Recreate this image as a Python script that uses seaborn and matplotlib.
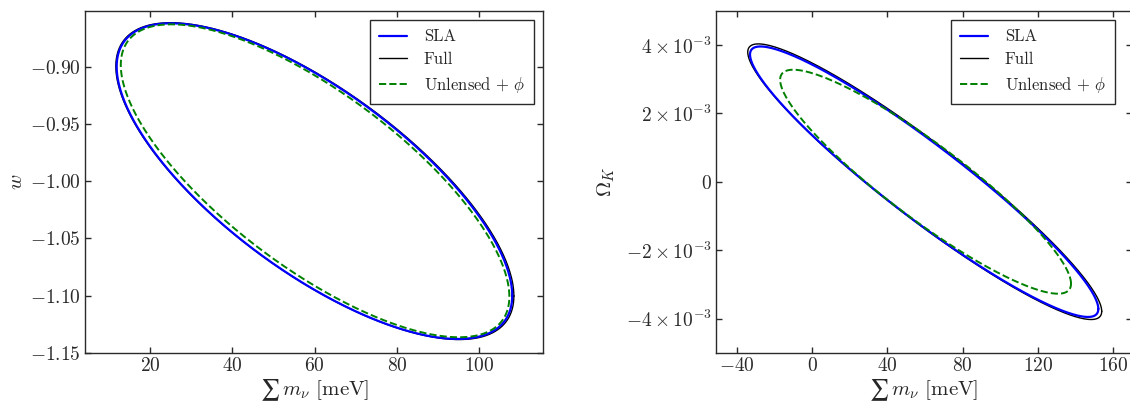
import numpy as np
import pandas as pd
import matplotlib
matplotlib.use("Agg")
import matplotlib.pyplot as plt
import seaborn as sns

# Forecast 1-sigma contours: centre, half-extent along each axis, correlation
series = ["SLA", "Full", r"Unlensed $+\ \phi$"]
colors = ["#0000ff", "#000000", "#008000"]
styles = ["-", "-", "--"]
widths = [1.6, 1.0, 1.4]
zorders = [3, 2, 4]

# Panel 1: sum m_nu [meV] vs w
w_cx = [59.95, 60.05, 60.10]
w_cy = [-1.000, -1.000, -0.9997]
w_hx = [48.05, 48.35, 47.20]
w_hy = [0.1380, 0.1385, 0.1368]
w_rho = [-0.725, -0.725, -0.740]

# Panel 2: sum m_nu [meV] vs Omega_K
k_cx = [59.5, 59.8, 60.25]
k_cy = [0.0, 0.0, 0.0]
k_hx = [92.5, 94.0, 77.25]
k_hy = [3.955e-3, 4.03e-3, 3.275e-3]
k_rho = [-0.940, -0.940, -0.910]

w_yticks = [-0.90, -0.95, -1.00, -1.05, -1.10, -1.15]
w_xticks = [20, 40, 60, 80, 100]
k_yticks = [4e-3, 2e-3, 0.0, -2e-3, -4e-3]
k_ytick_labels = [r"$4\times10^{-3}$", r"$2\times10^{-3}$", r"$0$",
                  r"$-2\times10^{-3}$", r"$-4\times10^{-3}$"]
k_xticks = [-40, 0, 40, 80, 120, 160]


def contour_frame(cx, cy, hx, hy, rho, n=600):
    t = np.linspace(0.0, 2.0 * np.pi, n)
    frames = []
    for i, name in enumerate(series):
        x = cx[i] + hx[i] * np.cos(t)
        y = cy[i] + hy[i] * (rho[i] * np.cos(t) + np.sqrt(1 - rho[i] ** 2) * np.sin(t))
        frames.append(pd.DataFrame({"x": x, "y": y, "series": name}))
    return frames


sns.set_style("ticks")
plt.rcParams.update({
    "font.family": "serif",
    "font.serif": ["cmr10", "DejaVu Serif"],
    "mathtext.fontset": "cm",
    "axes.formatter.use_mathtext": True,
    "axes.unicode_minus": True,
    "axes.edgecolor": "#2a2a2a",
    "axes.linewidth": 1.0,
    "xtick.direction": "in",
    "ytick.direction": "in",
    "xtick.top": True,
    "ytick.right": True,
    "xtick.major.size": 4,
    "ytick.major.size": 4,
    "xtick.major.width": 1.0,
    "ytick.major.width": 1.0,
    "xtick.color": "#2a2a2a",
    "ytick.color": "#2a2a2a",
})

fig = plt.figure(figsize=(11.3, 4.03), dpi=100)
ax1 = fig.add_axes([0.0752, 0.1248, 0.4056, 0.8486])
ax2 = fig.add_axes([0.6334, 0.1248, 0.3684, 0.8486])


def draw(ax, frames):
    handles = []
    for i, df in enumerate(frames):
        sns.lineplot(data=df, x="x", y="y", sort=False, estimator=None, ax=ax,
                     color=colors[i], linestyle=styles[i], linewidth=widths[i],
                     zorder=zorders[i], legend=False)
        handles.append(ax.lines[-1])
    return handles


h1 = draw(ax1, contour_frame(w_cx, w_cy, w_hx, w_hy, w_rho))
h2 = draw(ax2, contour_frame(k_cx, k_cy, k_hx, k_hy, k_rho))

# text-size summation sign
xlabel = "$\u2211\\, m_\\nu$ [meV]"

# Left panel axes
ax1.set_xlim(4.2, 115.55)
ax1.set_ylim(-1.15, -0.851)
ax1.set_xticks(w_xticks)
ax1.set_xticklabels([rf"${v:d}$" for v in w_xticks])
ax1.set_yticks(w_yticks)
ax1.set_yticklabels([rf"${v:.2f}$" for v in w_yticks])
ax1.set_xlabel(xlabel, fontsize=15, labelpad=1)
ax1.set_ylabel(r"$w$", fontsize=15, labelpad=3)

# Right panel axes
ax2.set_xlim(-51.2, 169.9)
ax2.set_ylim(-5e-3, 5e-3)
ax2.set_xticks(k_xticks)
ax2.set_xticklabels([rf"${v:d}$" for v in k_xticks])
ax2.set_yticks(k_yticks)
ax2.set_yticklabels(k_ytick_labels)
ax2.set_xlabel(xlabel, fontsize=15, labelpad=1)
ax2.set_ylabel(r"$\Omega_K$", fontsize=15, labelpad=6)

for ax in (ax1, ax2):
    ax.tick_params(labelsize=14, pad=3)

legend_kw = dict(loc="upper right", bbox_transform=fig.transFigure, borderaxespad=0,
                 fontsize=12, frameon=True, fancybox=False, framealpha=1,
                 edgecolor="#2a2a2a", handlelength=1.7, handletextpad=1.0,
                 labelspacing=0.45, borderpad=0.55)
leg1 = ax1.legend(h1, series, bbox_to_anchor=(0.4726, 0.9504), **legend_kw)
leg2 = ax2.legend(h2, series, bbox_to_anchor=(0.9867, 0.9504), **legend_kw)
for leg in (leg1, leg2):
    leg.get_frame().set_linewidth(1.0)

fig.savefig("out.png", dpi=100)
